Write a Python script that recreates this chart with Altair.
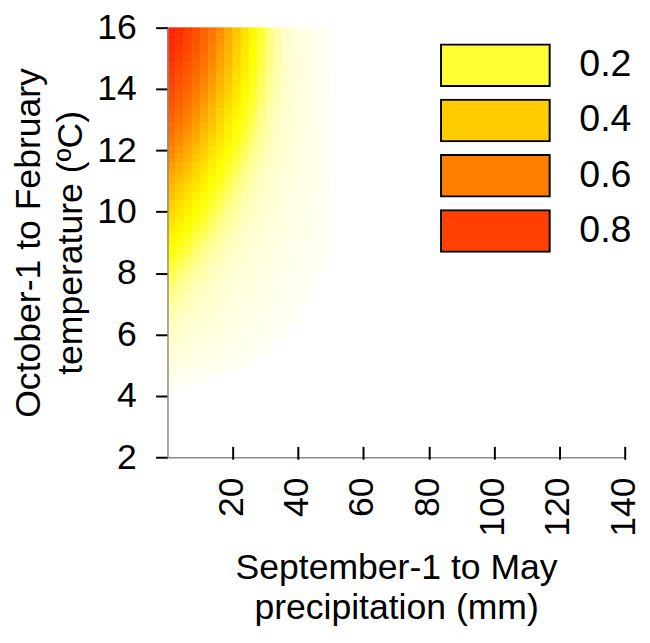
import altair as alt
import pandas as pd

FONT = "Liberation Sans"

# grid: precipitation edges (mm) and temperature row centres (deg C)
precip_edges = [0, 2.5, 5, 7.5, 10, 12.5, 15, 17.5, 20, 22.5, 25, 27.5, 30, 32.5, 35, 37.5, 40, 42.5, 45, 47.5, 50]
temp_mid = [16.0, 15.75, 15.5, 15.25, 15.0, 14.75, 14.5, 14.25, 14.0, 13.75, 13.5, 13.25,
            13.0, 12.75, 12.5, 12.25, 12.0, 11.75, 11.5, 11.25, 11.0, 10.75, 10.5, 10.25,
            10.0, 9.75, 9.5, 9.25, 9.0, 8.75, 8.5, 8.25, 8.0, 7.75, 7.5, 7.25,
            7.0, 6.75, 6.5, 6.25, 6.0, 5.75, 5.5, 5.25, 5.0, 4.75, 4.5, 4.25]

# probability read from the surface, one row per temperature centre (top to bottom)
prob = [
    [.904, .871, .830, .780, .719, .649, .571, .491, .410, .335, .266, .208, .159, .120, .090, .067, .049, .036, .026, .019],
    [.894, .860, .818, .765, .705, .634, .559, .480, .401, .330, .263, .207, .160, .121, .092, .069, .051, .038, .028, .020],
    [.883, .847, .803, .750, .688, .619, .544, .467, .392, .322, .259, .204, .158, .122, .092, .070, .052, .039, .029, .021],
    [.871, .833, .788, .733, .670, .602, .529, .455, .382, .314, .254, .201, .157, .121, .093, .070, .054, .040, .030, .023],
    [.859, .820, .773, .717, .655, .586, .515, .442, .372, .307, .249, .198, .156, .121, .094, .072, .055, .041, .031, .024],
    [.844, .804, .754, .698, .636, .567, .497, .428, .361, .297, .242, .195, .153, .120, .094, .072, .055, .042, .032, .024],
    [.827, .784, .733, .676, .614, .547, .478, .410, .346, .286, .234, .188, .150, .118, .092, .072, .055, .043, .033, .025],
    [.810, .765, .713, .655, .592, .526, .460, .394, .332, .275, .226, .182, .146, .115, .090, .071, .055, .043, .033, .025],
    [.789, .743, .690, .632, .570, .505, .440, .378, .319, .265, .218, .177, .142, .113, .089, .070, .055, .043, .034, .026],
    [.769, .721, .668, .608, .547, .485, .421, .361, .306, .255, .209, .171, .138, .110, .088, .070, .055, .043, .034, .026],
    [.746, .697, .642, .584, .524, .462, .402, .345, .292, .244, .201, .165, .134, .108, .086, .069, .055, .043, .034, .027],
    [.723, .673, .618, .560, .501, .442, .384, .330, .279, .233, .193, .158, .129, .104, .084, .067, .054, .043, .034, .027],
    [.697, .646, .591, .534, .477, .419, .364, .312, .265, .222, .184, .152, .125, .101, .082, .066, .053, .043, .034, .027],
    [.672, .620, .566, .510, .453, .399, .345, .295, .252, .211, .176, .146, .119, .098, .079, .065, .052, .042, .034, .027],
    [.643, .592, .538, .483, .429, .376, .327, .280, .238, .201, .168, .140, .115, .095, .078, .063, .051, .042, .034, .027],
    [.616, .565, .512, .459, .406, .356, .310, .265, .226, .192, .160, .134, .111, .091, .075, .062, .051, .041, .034, .027],
    [.586, .535, .483, .432, .382, .334, .290, .249, .213, .180, .151, .127, .106, .087, .072, .060, .049, .040, .033, .027],
    [.557, .507, .458, .408, .361, .314, .273, .235, .201, .171, .144, .121, .102, .085, .070, .058, .048, .040, .033, .027],
    [.525, .477, .428, .381, .336, .294, .255, .220, .188, .160, .136, .114, .096, .080, .067, .056, .046, .038, .032, .026],
    [.496, .449, .402, .358, .315, .276, .240, .207, .177, .151, .128, .109, .092, .077, .064, .054, .045, .038, .031, .026],
    [.464, .419, .375, .332, .293, .256, .222, .192, .165, .141, .120, .102, .086, .073, .061, .051, .043, .036, .030, .025],
    [.438, .394, .352, .312, .275, .240, .209, .181, .156, .134, .114, .097, .082, .070, .059, .050, .042, .035, .030, .025],
    [.410, .369, .329, .292, .257, .225, .196, .170, .146, .126, .108, .092, .079, .067, .057, .048, .041, .034, .029, .024],
    [.383, .344, .307, .272, .240, .210, .183, .159, .138, .119, .102, .087, .075, .064, .054, .046, .039, .033, .028, .024],
    [.358, .321, .286, .254, .224, .196, .171, .149, .129, .112, .096, .083, .071, .061, .052, .044, .038, .032, .028, .023],
    [.334, .300, .267, .237, .209, .182, .160, .139, .121, .105, .091, .079, .068, .058, .050, .043, .037, .031, .027, .023],
    [.309, .277, .246, .218, .193, .170, .149, .130, .113, .098, .085, .074, .064, .055, .047, .041, .035, .030, .026, .022],
    [.285, .255, .228, .201, .178, .157, .137, .120, .105, .091, .079, .069, .060, .052, .045, .039, .033, .029, .025, .021],
    [.264, .236, .210, .187, .165, .145, .128, .112, .098, .086, .074, .065, .056, .049, .042, .037, .032, .027, .024, .021],
    [.244, .218, .195, .172, .152, .135, .118, .103, .091, .079, .070, .061, .053, .046, .040, .035, .030, .026, .023, .020],
    [.223, .200, .178, .158, .140, .124, .109, .096, .084, .074, .065, .057, .049, .043, .038, .033, .029, .025, .022, .019],
    [.204, .182, .162, .144, .128, .113, .101, .089, .078, .069, .060, .053, .046, .040, .035, .031, .027, .024, .021, 0],
    [.187, .167, .149, .133, .118, .105, .092, .082, .072, .063, .056, .049, .043, .038, .033, .029, .025, .022, .020, 0],
    [.172, .154, .138, .122, .109, .097, .086, .076, .067, .060, .052, .046, .041, .036, .031, .028, .024, .021, 0, 0],
    [.159, .142, .127, .113, .101, .090, .080, .070, .062, .055, .049, .043, .038, .033, .029, .026, .023, .020, 0, 0],
    [.147, .131, .117, .104, .093, .083, .074, .065, .058, .051, .046, .040, .036, .031, .028, .025, .022, 0, 0, 0],
    [.134, .120, .108, .096, .086, .076, .068, .060, .054, .048, .042, .037, .033, .029, .026, .023, .020, 0, 0, 0],
    [.123, .110, .099, .089, .079, .070, .062, .056, .050, .044, .039, .035, .031, .027, .024, .021, 0, 0, 0, 0],
    [.113, .101, .091, .081, .073, .065, .058, .052, .046, .041, .036, .032, .029, .025, .023, .020, 0, 0, 0, 0],
    [.103, .093, .083, .074, .067, .060, .053, .047, .042, .038, .034, .030, .027, .024, .021, 0, 0, 0, 0, 0],
    [.095, .085, .076, .068, .061, .055, .049, .044, .039, .035, .031, .028, .025, .022, .019, 0, 0, 0, 0, 0],
    [.082, .074, .067, .060, .053, .047, .043, .038, .034, .030, .027, .024, .022, 0, 0, 0, 0, 0, 0, 0],
    [.072, .064, .058, .052, .046, .042, .037, .033, .030, .027, .024, .021, .019, 0, 0, 0, 0, 0, 0, 0],
    [.062, .056, .050, .045, .040, .036, .032, .029, .026, .023, .021, 0, 0, 0, 0, 0, 0, 0, 0, 0],
    [.054, .049, .044, .039, .035, .031, .028, .025, .023, .020, 0, 0, 0, 0, 0, 0, 0, 0, 0, 0],
    [.041, .037, .033, .029, .026, .024, .021, 0, 0, 0, 0, 0, 0, 0, 0, 0, 0, 0, 0, 0],
    [.031, .027, .025, .022, .020, 0, 0, 0, 0, 0, 0, 0, 0, 0, 0, 0, 0, 0, 0, 0],
    [.021, 0, 0, 0, 0, 0, 0, 0, 0, 0, 0, 0, 0, 0, 0, 0, 0, 0, 0, 0],
]

precip_ticks = [20, 40, 60, 80, 100, 120, 140]
temp_ticks = [2, 4, 6, 8, 10, 12, 14, 16]

legend_labels = ["0.2", "0.4", "0.6", "0.8"]
legend_values = [0.2, 0.4, 0.6, 0.8]
legend_colors = ["#FFFF33", "#FFCC00", "#FF8000", "#FF4000"]

heat_stops = [0, 0.02, 0.05, 0.1, 0.15, 0.2, 0.25, 0.4, 0.6, 0.8, 0.9, 1.0]
heat_colors = ["#FFFFFF", "#FFFFF4", "#FFFFE2", "#FFFFC4", "#FFFF8C", "#FFFF38",
               "#FFFF00", "#FFC800", "#FF8000", "#FF4500", "#FF2200", "#FF0000"]

T_MAX = 16.0
half = (temp_mid[0] - temp_mid[1]) / 2
rows = []
for j, row in enumerate(prob):
    for k, p in enumerate(row):
        if p > 0:
            rows.append({
                "p0": precip_edges[k], "p1": precip_edges[k + 1],
                "t0": temp_mid[j] - half, "t1": min(temp_mid[j] + half, T_MAX),
                "prob": p,
            })
cells = pd.DataFrame(rows)
legend_df = pd.DataFrame({"label": legend_labels, "val": legend_values})

xscale = alt.Scale(domain=[0, 140], nice=False, zero=False)
yscale = alt.Scale(domain=[2, 16], nice=False, zero=False)
heat_scale = alt.Scale(domain=heat_stops, range=heat_colors, interpolate="rgb")

heat = alt.Chart(cells).mark_rect(strokeWidth=0.6).encode(
    x=alt.X("p0:Q", scale=xscale,
            axis=alt.Axis(orient="bottom", values=precip_ticks, labelAngle=270, ticks=False,
                          grid=False, domainColor="#8c8c8c", domainWidth=1.5, zindex=1,
                          labelFontSize=36, labelFont=FONT, labelColor="black",
                          labelPadding=20, labelOffset=-1.5, labelFlush=False, labelOverlap=False,
                          title=["September-1 to May", "precipitation (mm)"],
                          titleFontSize=36, titleFont=FONT, titleFontWeight="normal",
                          titleColor="black", titlePadding=15, titleLineHeight=40)),
    x2=alt.X2("p1"),
    y=alt.Y("t0:Q", scale=yscale,
            axis=alt.Axis(values=temp_ticks, grid=False, domainColor="#8c8c8c", domainWidth=1.5,
                          tickColor="black", tickWidth=2, tickSize=12, zindex=1,
                          labelFontSize=36, labelFont=FONT, labelColor="black",
                          labelPadding=19.5, labelOverlap=False, labelFlush=False,
                          title=["October-1 to February", "temperature (ºC)"],
                          titleFontSize=36, titleFont=FONT, titleFontWeight="normal",
                          titleColor="black", titlePadding=8, titleLineHeight=42)),
    y2=alt.Y2("t1"),
    fill=alt.Fill("prob:Q", scale=heat_scale, legend=None),
    stroke=alt.Stroke("prob:Q", scale=heat_scale, legend=None),
)

key = alt.Chart(legend_df).mark_point(filled=True, opacity=0).encode(
    x=alt.X("val:Q", scale=xscale, title=None,
            axis=alt.Axis(orient="bottom", offset=-11, values=precip_ticks, labels=False,
                          domain=False, ticks=True, tickSize=13, tickWidth=2, zindex=1,
                          tickColor="black", grid=False)),
    fill=alt.Fill("label:N", scale=alt.Scale(domain=legend_labels, range=legend_colors),
                  legend=alt.Legend(orient="none", legendX=276, legendY=16, title=None,
                                    symbolType="M-1,-0.382L1,-0.382L1,0.382L-1,0.382Z",
                                    symbolSize=12100, symbolStrokeColor="black",
                                    symbolStrokeWidth=2, symbolOpacity=1, clipHeight=44,
                                    rowPadding=12, labelFontSize=38, labelFont=FONT,
                                    labelColor="black", labelOffset=29, padding=0)),
)

chart = alt.layer(heat, key).resolve_scale(
    fill="independent", stroke="independent"
).resolve_axis(x="independent").properties(
    width=463, height=435,
    autosize=alt.AutoSizeParams(type="none"),
    padding={"left": 161.5, "top": 16, "right": 17.5, "bottom": 169},
    background="white",
).configure_view(stroke="transparent")

chart.save("out.html", embed_options={"renderer": "svg", "actions": False})
